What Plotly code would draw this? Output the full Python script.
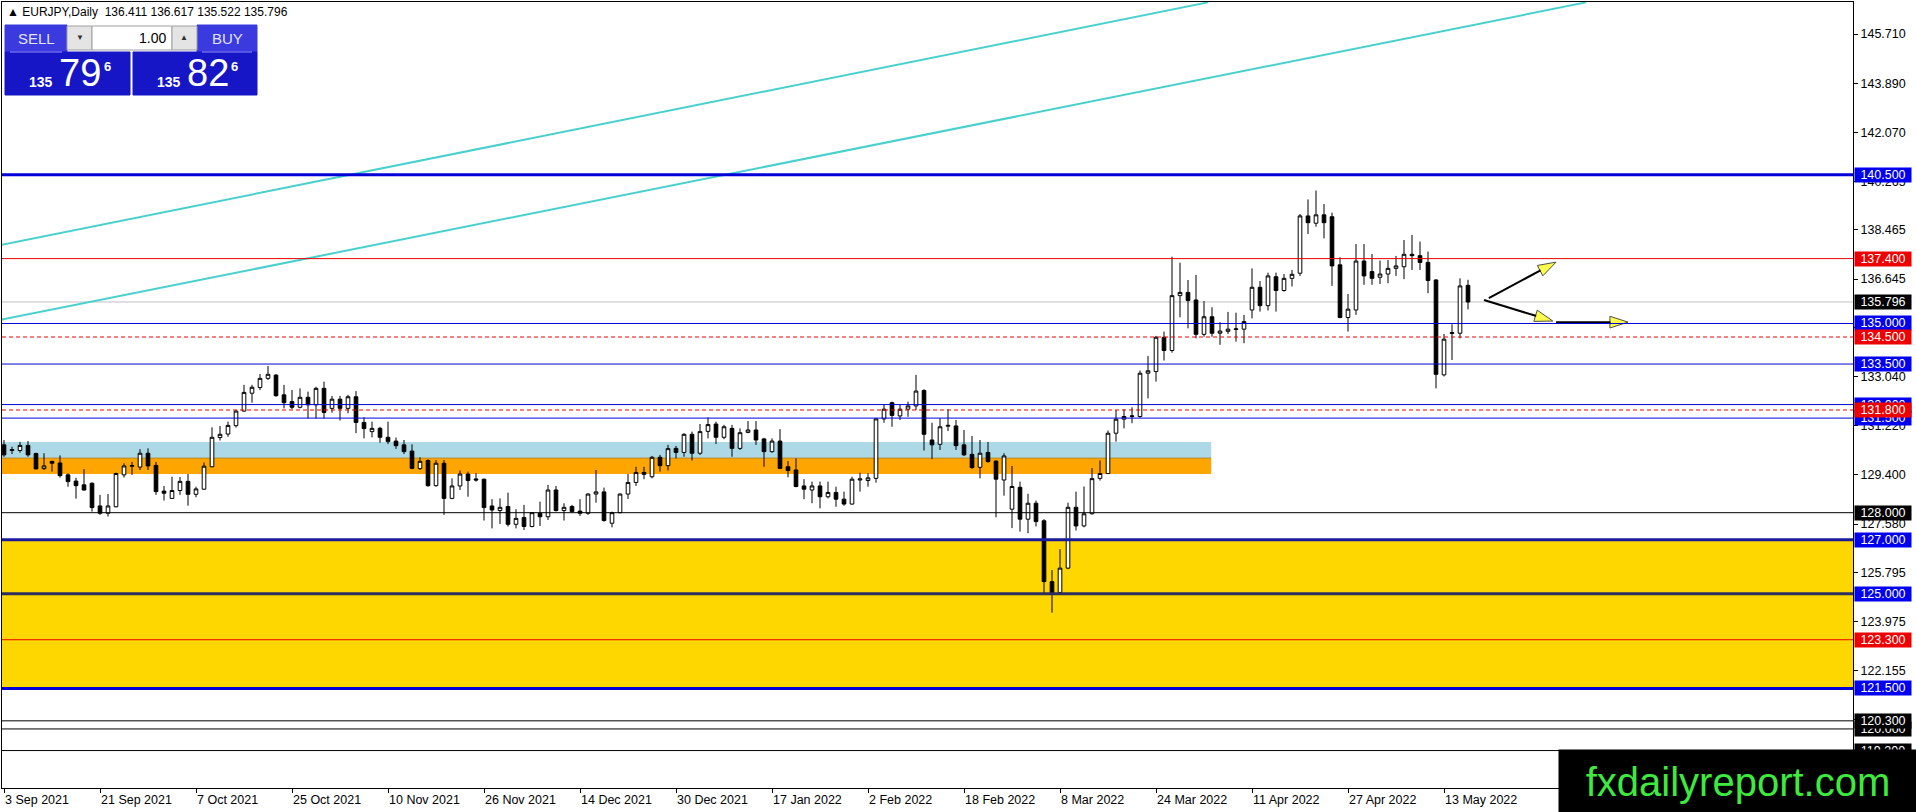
import pandas as pd
import plotly.graph_objects as go

# EURJPY daily bars, 3 Sep 2021 .. 18 May 2022
opens = [130.51, 130.30, 130.30, 130.49, 130.19, 129.63, 129.90, 129.84, 129.40, 129.17,
         129.03, 129.09, 128.25, 127.98, 128.22, 129.40, 129.72, 129.69, 130.20, 129.75,
         128.80, 128.53, 128.82, 129.16, 128.68, 128.87, 129.70, 130.78, 130.91, 131.22,
         131.76, 132.42, 132.63, 132.97, 133.09, 132.36, 132.11, 131.90, 132.27, 131.99,
         132.60, 131.86, 132.20, 131.86, 132.29, 131.34, 131.00, 131.12, 130.79, 130.65,
         130.51, 130.28, 129.63, 129.93, 129.00, 129.83, 128.53, 128.99, 129.43, 129.25,
         129.24, 128.25, 128.08, 128.23, 127.57, 127.82, 127.49, 127.98, 127.85, 128.84,
         128.08, 128.23, 128.06, 127.98, 128.69, 128.77, 127.61, 128.00, 128.69, 129.12,
         129.49, 129.33, 130.05, 129.74, 130.38, 130.23, 130.90, 130.20, 131.01, 131.28,
         130.79, 131.12, 130.38, 130.97, 131.06, 130.73, 130.26, 130.65, 129.70, 129.58,
         128.99, 128.84, 128.99, 128.59, 128.75, 128.50, 128.32, 129.21, 129.19, 129.27,
         131.47, 132.07, 131.58, 131.83, 131.95, 132.52, 130.69, 130.53, 131.20, 131.21,
         130.51, 130.16, 129.68, 130.23, 129.91, 129.21, 128.13, 128.94, 127.76, 128.35,
         127.70, 125.45, 125.05, 125.95, 128.20, 127.51, 127.96, 129.27, 129.45, 130.94,
         131.46, 131.56, 131.56, 133.16, 133.22, 134.49, 134.00, 136.03, 136.15, 135.87,
         134.60, 135.25, 134.64, 134.71, 134.78, 134.79, 135.50, 136.34, 135.66, 136.73,
         136.22, 136.67, 136.86, 138.98, 138.71, 139.02, 138.95, 137.17, 135.22, 135.50,
         137.31, 136.92, 136.71, 136.83, 137.04, 137.10, 137.56, 137.51, 137.26, 136.61,
         133.10, 134.63, 134.64, 136.411]
highs = [130.69, 130.44, 130.62, 130.65, 130.22, 130.20, 129.91, 130.12, 129.46, 129.29,
         129.61, 129.12, 128.66, 128.69, 129.48, 129.83, 129.88, 130.35, 130.38, 129.88,
         128.99, 129.33, 129.32, 129.43, 128.96, 129.86, 131.16, 131.21, 131.37, 131.80,
         132.73, 132.73, 133.13, 133.43, 133.13, 132.73, 132.54, 132.60, 132.48, 132.66,
         132.85, 132.32, 132.32, 132.36, 132.50, 131.53, 131.37, 131.18, 131.37, 130.78,
         130.69, 130.53, 130.05, 129.98, 129.95, 129.95, 129.27, 129.56, 129.52, 129.46,
         129.26, 128.50, 128.53, 128.74, 128.13, 128.29, 128.02, 128.41, 129.03, 128.99,
         128.35, 128.29, 128.50, 128.72, 129.58, 128.93, 128.04, 128.71, 129.43, 129.70,
         129.70, 130.10, 130.14, 130.51, 130.47, 130.94, 131.00, 131.28, 131.52, 131.37,
         131.25, 131.25, 131.12, 131.39, 131.39, 130.77, 130.75, 131.09, 129.91, 130.01,
         129.24, 129.15, 129.15, 129.15, 128.96, 128.78, 129.33, 129.48, 129.46, 131.49,
         132.02, 132.11, 131.99, 132.11, 133.10, 132.57, 131.33, 131.49, 131.83, 131.43,
         131.06, 130.84, 130.69, 130.62, 129.93, 130.20, 129.73, 129.15, 128.70, 128.45,
         127.76, 125.88, 126.65, 128.37, 128.78, 128.97, 129.65, 129.93, 131.04, 131.80,
         131.83, 131.90, 133.26, 133.80, 134.54, 134.70, 137.47, 137.25, 136.61, 136.80,
         135.83, 135.60, 135.05, 135.43, 135.40, 135.32, 137.04, 136.57, 136.88, 136.88,
         136.83, 136.98, 139.05, 139.59, 139.92, 139.42, 139.10, 137.45, 136.09, 137.94,
         137.94, 137.57, 137.33, 137.35, 137.50, 138.09, 138.28, 138.03, 137.66, 136.64,
         134.61, 134.97, 136.67, 136.617]
lows = [130.07, 130.17, 130.22, 130.07, 129.61, 129.58, 129.52, 129.30, 128.96, 128.52,
        128.82, 128.04, 127.92, 127.86, 128.20, 129.30, 129.40, 129.58, 129.58, 128.66,
        128.45, 128.51, 128.66, 128.26, 128.57, 128.85, 129.68, 130.67, 130.81, 131.15,
        131.74, 132.07, 132.54, 132.91, 132.29, 131.86, 131.83, 131.86, 131.49, 131.49,
        131.49, 131.70, 131.41, 131.68, 130.94, 130.75, 130.79, 130.59, 130.54, 130.36,
        130.17, 129.61, 129.58, 128.96, 128.96, 127.92, 128.50, 128.84, 128.59, 129.15,
        127.71, 127.42, 127.58, 127.49, 127.42, 127.36, 127.46, 127.51, 127.73, 128.04,
        127.71, 128.00, 127.88, 127.92, 128.37, 127.67, 127.46, 127.98, 128.51, 128.99,
        129.24, 129.27, 129.52, 129.56, 130.01, 130.07, 129.93, 130.14, 130.75, 130.54,
        130.72, 130.07, 130.32, 130.94, 130.51, 129.70, 130.22, 129.62, 129.31, 128.94,
        128.50, 128.35, 128.16, 128.53, 128.22, 128.26, 128.30, 128.78, 128.96, 129.11,
        131.33, 131.18, 131.43, 131.55, 131.80, 130.30, 129.98, 130.32, 131.02, 130.32,
        130.10, 129.62, 129.27, 129.85, 127.83, 128.63, 127.43, 127.30, 127.24, 127.49,
        125.02, 124.30, 125.02, 125.91, 127.34, 127.46, 127.93, 129.19, 129.45, 130.63,
        131.12, 131.31, 131.52, 132.23, 132.85, 133.63, 133.92, 135.23, 134.82, 134.45,
        134.51, 134.51, 134.21, 134.61, 134.33, 134.27, 135.19, 135.44, 135.48, 135.44,
        136.18, 136.37, 136.76, 138.31, 138.58, 138.15, 136.39, 135.20, 134.70, 135.32,
        136.43, 136.43, 136.46, 136.49, 136.76, 136.64, 136.98, 136.98, 136.12, 132.60,
        133.04, 133.65, 134.45, 135.522]
closes = [130.14, 130.33, 130.49, 130.14, 129.62, 129.73, 129.83, 129.37, 129.15, 129.00,
          128.84, 128.19, 127.98, 128.25, 129.45, 129.73, 129.74, 130.20, 129.73, 128.78,
          128.72, 128.82, 129.16, 128.68, 128.88, 129.72, 130.79, 130.90, 131.23, 131.76,
          132.45, 132.64, 132.97, 133.12, 132.33, 132.07, 131.90, 132.27, 131.99, 132.60,
          131.71, 132.20, 131.86, 132.29, 131.34, 131.11, 131.12, 130.79, 130.63, 130.48,
          130.26, 129.64, 129.90, 129.00, 129.83, 128.53, 128.99, 129.43, 129.19, 129.21,
          128.19, 128.10, 128.20, 127.57, 127.79, 127.49, 128.00, 127.85, 128.84, 128.08,
          128.20, 128.04, 127.98, 128.69, 128.77, 127.71, 128.00, 128.69, 129.12, 129.49,
          129.42, 130.05, 129.74, 130.37, 130.23, 130.90, 130.20, 131.00, 131.26, 130.79,
          131.18, 130.38, 130.96, 131.06, 130.69, 130.26, 130.65, 129.64, 129.56, 128.97,
          128.87, 128.99, 128.59, 128.75, 128.50, 128.32, 129.24, 129.25, 129.29, 131.47,
          131.83, 131.60, 131.83, 131.95, 132.50, 130.90, 130.51, 131.18, 131.23, 130.48,
          130.14, 129.67, 130.20, 129.89, 129.24, 130.10, 128.97, 127.76, 128.35, 127.67,
          125.45, 125.02, 125.95, 128.20, 127.51, 127.96, 129.26, 129.45, 130.94, 131.46,
          131.56, 131.58, 133.16, 133.25, 134.49, 134.00, 136.03, 136.15, 135.85, 134.60,
          135.25, 134.64, 134.72, 134.79, 134.80, 135.07, 136.34, 135.66, 136.76, 136.22,
          136.67, 136.82, 138.98, 138.73, 139.02, 138.73, 137.13, 135.22, 135.53, 137.31,
          136.76, 136.67, 136.83, 137.04, 137.13, 137.56, 137.51, 137.26, 136.59, 133.12,
          134.42, 134.66, 136.39, 135.796]

dates = pd.bdate_range("2021-09-03", periods=len(opens))
tick_labels = ["3 Sep 2021", "21 Sep 2021", "7 Oct 2021", "25 Oct 2021", "10 Nov 2021",
               "26 Nov 2021", "14 Dec 2021", "30 Dec 2021", "17 Jan 2022", "2 Feb 2022",
               "18 Feb 2022", "8 Mar 2022", "24 Mar 2022", "11 Apr 2022", "27 Apr 2022",
               "13 May 2022"]
price_ticks = [145.710, 143.890, 142.070, 140.265, 138.465, 136.645, 134.845, 133.040,
               131.220, 129.400, 127.580, 125.795, 123.975, 122.155, 120.335, 118.515]

# horizontal levels
blue_levels = [140.5, 135.0, 133.5, 132.0, 131.5, 127.0, 125.0, 121.5]
red_levels = [137.4, 123.3]
red_dash_levels = [134.5, 131.8]
black_levels = [128.0, 120.3, 120.0, 119.2]
bid = 135.796

# shaded zones (low, high)
blue_zone = [130.02, 130.62]
orange_zone = [129.43, 130.02]
yellow_zone = [121.55, 127.0]
zone_end_bar = 150.9

# channel lines, (bar, price) anchors
upper_x = [-0.5, 150.5]
upper_y = [137.90, 146.88]
lower_x = [-0.5, 197.75]
lower_y = [135.13, 146.88]

# forecast arrows
arrow_up_x, arrow_up_y = [185.6, 194.0], [135.94, 137.27]
arrow_dn_x, arrow_dn_y = [185.0, 193.6], [135.87, 135.09]
arrow_fl_x, arrow_fl_y = [194.0, 203.0], [135.05, 135.05]

header = "▲ EURJPY,Daily  136.411 136.617 135.522 135.796"

FONT = "Liberation Sans, Arial, sans-serif"
W, H = 1916, 812
L, R, T, B = 2, 1853, 2, 788
BLUE = "#0000D8"
RED = "#EE0000"


def px(x):
    return (x - L) / (R - L)


def py(y):
    return 1 - (y - T) / (B - T)


xs = list(range(len(dates)))
lab = [f"{d.day} {d:%b %Y}" for d in dates]
tickvals = [i for i, t in enumerate(lab) if t in tick_labels]

fig = go.Figure()

fig.add_trace(go.Candlestick(
    x=xs, open=opens, high=highs, low=lows, close=closes,
    increasing=dict(line=dict(color="black", width=1), fillcolor="white"),
    decreasing=dict(line=dict(color="black", width=1), fillcolor="black"),
    whiskerwidth=0, showlegend=False, hoverinfo="skip",
))

for cx, cy in [(upper_x, upper_y), (lower_x, lower_y)]:
    fig.add_trace(go.Scatter(x=cx, y=cy, mode="lines",
                             line=dict(color="#48D1CC", width=2),
                             showlegend=False, hoverinfo="skip"))

for ax, ay in [(arrow_up_x, arrow_up_y), (arrow_dn_x, arrow_dn_y), (arrow_fl_x, arrow_fl_y)]:
    fig.add_trace(go.Scatter(
        x=ax, y=ay, mode="lines+markers",
        line=dict(color="black", width=2),
        marker=dict(symbol="arrow", size=[0, 19], angleref="previous",
                    color="#FFFF00", line=dict(color="black", width=1)),
        showlegend=False, hoverinfo="skip"))

shapes = []
# zones in the background
shapes.append(dict(type="rect", xref="paper", x0=0, x1=1, yref="y",
                   y0=yellow_zone[0], y1=yellow_zone[1], fillcolor="#FFD700",
                   line_width=0, layer="below"))
shapes.append(dict(type="rect", xref="x", x0=-0.25, x1=zone_end_bar, yref="y",
                   y0=blue_zone[0], y1=blue_zone[1], fillcolor="#ADD8E6",
                   line_width=0, layer="below"))
shapes.append(dict(type="rect", xref="x", x0=-0.25, x1=zone_end_bar, yref="y",
                   y0=orange_zone[0], y1=orange_zone[1], fillcolor="#FFA500",
                   line_width=0, layer="below"))
shapes.append(dict(type="line", xref="x", x0=-0.25, x1=zone_end_bar, yref="y",
                   y0=orange_zone[1], y1=orange_zone[1],
                   line=dict(color="#B8862A", width=1), layer="below"))
shapes.append(dict(type="line", xref="paper", x0=0, x1=1, yref="y", y0=bid, y1=bid,
                   line=dict(color="#C0C0C0", width=1), layer="below"))

thick = {140.5: BLUE, 127.0: "#1A1A9A", 125.0: "#2E2E5E", 121.5: BLUE}
for p in blue_levels:
    shapes.append(dict(type="line", xref="paper", x0=0, x1=1, yref="y", y0=p, y1=p,
                       line=dict(color=thick.get(p, BLUE), width=3 if p in thick else 1)))
for p in red_levels:
    shapes.append(dict(type="line", xref="paper", x0=0, x1=1, yref="y", y0=p, y1=p,
                       line=dict(color=RED, width=1)))
for p in red_dash_levels:
    shapes.append(dict(type="line", xref="paper", x0=0, x1=1, yref="y", y0=p, y1=p,
                       line=dict(color=RED, width=1, dash="4px,3px")))
for p in black_levels:
    shapes.append(dict(type="line", xref="paper", x0=0, x1=1, yref="y", y0=p, y1=p,
                       line=dict(color="black", width=1)))

# one-click trading panel (pixel boxes)
def box(x0, y0, x1, y1, fill, line=None):
    shapes.append(dict(type="rect", xref="paper", yref="paper",
                       x0=px(x0), x1=px(x1), y0=py(y1), y1=py(y0), fillcolor=fill,
                       line=dict(color=line or fill, width=1), layer="above"))


box(5, 25, 67, 52, "#3A3ADE")
box(197, 25, 257, 52, "#3A3ADE")
box(5, 52, 130, 95, "#1616C6")
box(133, 52, 257, 95, "#1616C6")
box(67, 26, 92, 50, "#E4E4E4", "#A0A0A0")
box(92, 26, 172, 50, "#FFFFFF", "#A0A0A0")
box(172, 26, 197, 50, "#E4E4E4", "#A0A0A0")
for a, b in [(10, 62), (202, 252)]:
    shapes.append(dict(type="line", xref="paper", yref="paper", x0=px(a), x1=px(b),
                       y0=py(52), y1=py(52), line=dict(color="#8C8CFF", width=1)))

annotations = []


def txt(text, x, y, size, color, xanchor="center", yanchor="middle"):
    annotations.append(dict(text=text, xref="paper", yref="paper", x=px(x), y=py(y),
                            xanchor=xanchor, yanchor=yanchor, showarrow=False,
                            font=dict(family=FONT, size=size, color=color)))


txt(header, 5, 12, 12, "black", xanchor="left")
txt("SELL", 36, 39, 15, "#E2E4FF")
txt("BUY", 227, 39, 15, "#E2E4FF")
txt("▼", 80, 38, 8, "#303030")
txt("▲", 184, 38, 8, "#303030")
txt("1.00", 168, 38, 14, "black", xanchor="right")
for base, big, small in [(0, "79", "6"), (128, "82", "6")]:
    txt("<b>135</b>", 41 + base, 82, 14, "white")
    txt(big, 80 + base, 73, 38, "white")
    txt("<b>" + small + "</b>", 107 + base, 66, 13, "white")

# price boxes on the right axis
tags = [(140.5, BLUE), (137.4, RED), (bid, "black"), (135.0, BLUE), (134.5, RED),
        (133.5, BLUE), (132.0, BLUE), (131.5, BLUE), (131.8, RED), (128.0, "black"),
        (127.0, BLUE), (125.0, BLUE), (123.3, RED), (121.5, BLUE), (120.0, "black"),
        (120.3, "black"), (119.2, "black")]
for p, c in tags:
    annotations.append(dict(text=f"{p:.3f}", xref="paper", x=1, xshift=1, xanchor="left",
                            yref="y", y=p, yanchor="middle", showarrow=False,
                            bgcolor=c if c != BLUE else "#0000F0", borderpad=0,
                            width=56, height=14,
                            font=dict(family=FONT, size=12.5, color="white")))

# watermark
annotations.append(dict(text="fxdailyreport.com", xref="paper", yref="paper",
                        x=px(1558), y=py(749), xanchor="left", yanchor="top",
                        showarrow=False, bgcolor="black", borderpad=0,
                        width=W - 1558, height=H - 749,
                        font=dict(family=FONT, size=40, color="#3FEA3F")))

fig.update_layout(
    width=W, height=H,
    margin=dict(l=L, r=W - R, t=T, b=H - B, pad=0),
    paper_bgcolor="white", plot_bgcolor="white",
    boxgap=0.35,
    showlegend=False, hovermode=False,
    shapes=shapes, annotations=annotations,
    font=dict(family=FONT, size=12.5, color="black"),
    xaxis=dict(range=[-0.25, 231.125], tickvals=tickvals,
               ticktext=[lab[i] for i in tickvals],
               ticklabelposition="outside right", ticks="outside", ticklen=4,
               tickcolor="black", showgrid=False, zeroline=False,
               showline=True, linecolor="black", linewidth=1, mirror=True,
               rangeslider=dict(visible=False), fixedrange=True,
               tickfont=dict(family=FONT, size=12.5, color="black")),
    yaxis=dict(range=[117.815, 146.894], side="right", tickvals=price_ticks,
               ticktext=[f"{v:.3f}" for v in price_ticks],
               ticks="outside", ticklen=4, tickcolor="black",
               showgrid=False, zeroline=False,
               showline=True, linecolor="black", linewidth=1, mirror=True,
               fixedrange=True,
               tickfont=dict(family=FONT, size=12.5, color="black")),
)

fig.write_html("out.html", config={"displayModeBar": False},
               post_script="document.body.style.margin='0';")
